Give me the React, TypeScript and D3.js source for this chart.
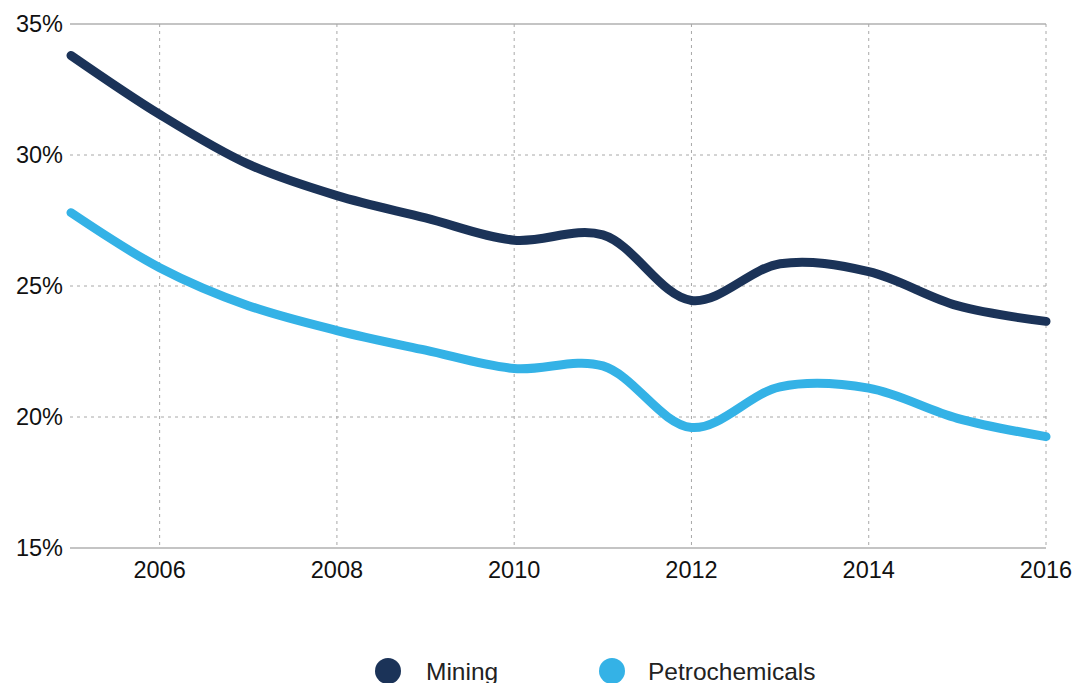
import React from "react";
import * as d3 from "d3";

const years = [2005, 2006, 2007, 2008, 2009, 2010, 2011, 2012, 2013, 2014, 2015, 2016];
const mining = [33.8, 31.55, 29.65, 28.45, 27.6, 26.75, 26.95, 24.45, 25.85, 25.55, 24.25, 23.65];
const petrochemicals = [27.8, 25.7, 24.25, 23.3, 22.55, 21.85, 21.95, 19.6, 21.15, 21.1, 19.95, 19.25];
const yTicks = [15, 20, 25, 30, 35];
const xTicks = [2006, 2008, 2010, 2012, 2014, 2016];
const seriesNames = ["Mining", "Petrochemicals"];
const colors = ["#1b3358", "#34b2e6"];

export default function App() {
  const W = 1076, H = 683;
  const x = d3.scaleLinear().domain([2005, 2016]).range([71, 1046]);
  const y = d3.scaleLinear().domain([15, 35]).range([548, 24]);
  const line = d3
    .line<number>()
    .x((_, i) => x(years[i]))
    .y((d) => y(d))
    .curve(d3.curveCatmullRom.alpha(0.5));
  const font = "'Liberation Sans', Arial, sans-serif";
  const series = [mining, petrochemicals];
  return (
    <svg width={W} height={H} style={{ position: "absolute", left: 0, top: 0 }}>
      <rect width={W} height={H} fill="#fff" />
      {yTicks.map((t) => (
        <g key={"y" + t}>
          {t === 15 || t === 35 ? (
            <line x1={70} x2={1046} y1={y(t)} y2={y(t)} stroke="#c4c4c4" strokeWidth={2} />
          ) : (
            <line x1={70} x2={1046} y1={y(t)} y2={y(t)} stroke="#a8a8a8" strokeWidth={1} strokeDasharray="3,4" />
          )}
          <text x={63} y={y(t)} dy="0.35em" textAnchor="end" fontFamily={font} fontSize={23.5} fill="#111">
            {t}%
          </text>
        </g>
      ))}
      {xTicks.map((t) => (
        <g key={"x" + t}>
          <line x1={x(t)} x2={x(t)} y1={y(35)} y2={y(15)} stroke="#a8a8a8" strokeWidth={1} strokeDasharray="3,4" />
          <text x={x(t)} y={578} textAnchor="middle" fontFamily={font} fontSize={23.5} fill="#111">
            {t}
          </text>
        </g>
      ))}
      {series.map((s, i) => (
        <path
          key={seriesNames[i]}
          d={line(s) || ""}
          fill="none"
          stroke={colors[i]}
          strokeWidth={9}
          strokeLinecap="round"
          strokeLinejoin="round"
        />
      ))}
      <g>
        <circle cx={388} cy={671} r={13} fill={colors[0]} />
        <text x={426} y={671} dy="0.35em" fontFamily={font} fontSize={24.5} fill="#222">
          {seriesNames[0]}
        </text>
        <circle cx={612} cy={671} r={13} fill={colors[1]} />
        <text x={648} y={671} dy="0.35em" fontFamily={font} fontSize={24.5} fill="#222">
          {seriesNames[1]}
        </text>
      </g>
    </svg>
  );
}
